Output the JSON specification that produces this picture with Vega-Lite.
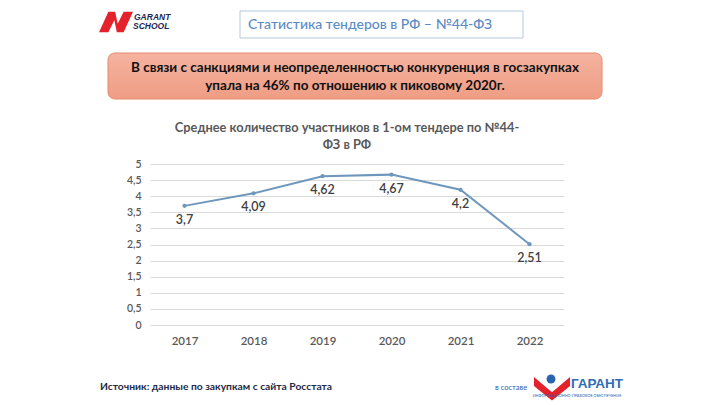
{
  "$schema": "https://vega.github.io/schema/vega-lite/v6.json",
  "autosize": {"type": "none"},
  "width": 414,
  "height": 161,
  "padding": {"left": 150, "top": 164, "right": 156, "bottom": 80},
  "background": "white",
  "config": {
    "view": {"stroke": null},
    "font": "Lato",
    "locale": {"number": {"decimal": ",", "thousands": " ", "grouping": [3], "currency": ["", " ₽"]}}
  },
  "data": {
    "values": [
      {"year": "2017", "value": 3.7},
      {"year": "2018", "value": 4.09},
      {"year": "2019", "value": 4.62},
      {"year": "2020", "value": 4.67},
      {"year": "2021", "value": 4.2},
      {"year": "2022", "value": 2.51}
    ]
  },
  "layer": [
    {
      "encoding": {
        "x": {
          "field": "year", "type": "ordinal",
          "scale": {"type": "point", "padding": 0.5},
          "axis": {"title": null, "labelAngle": 0, "domain": false, "ticks": false, "labelPadding": 10, "labelFont": "Lato", "labelFontSize": 11.5, "labelFontWeight": 600, "labelColor": "#595959", "grid": false}
        },
        "y": {
          "field": "value", "type": "quantitative",
          "scale": {"domain": [0, 5], "nice": false},
          "axis": {"title": null, "values": [0, 0.5, 1, 1.5, 2, 2.5, 3, 3.5, 4, 4.5, 5], "format": "~g", "domain": false, "ticks": false, "labelPadding": 9, "labelFont": "Lato", "labelFontSize": 10.5, "labelFontWeight": 600, "labelColor": "#595959", "gridColor": "#d9d9d9", "gridWidth": 1}
        }
      },
      "layer": [
        {"mark": {"type": "line", "color": "#6f97bd", "strokeWidth": 2}},
        {"mark": {"type": "point", "filled": true, "color": "#6f97bd", "size": 18, "opacity": 1}},
        {"mark": {"type": "text", "dy": 14, "baseline": "middle", "font": "Lato", "fontSize": 12.5, "fontWeight": 600, "fill": "#404040"}, "encoding": {"text": {"field": "value", "type": "quantitative", "format": "~g"}}}
      ]
    },
    {"data": {"values": [{}]}, "mark": {"type": "rule", "x": -150, "x2": 570, "y": -163.5, "stroke": "#dcdcdc", "strokeWidth": 2}, "encoding": {}},
    {"data": {"values": [{}]}, "mark": {"type": "rule", "x": -150, "x2": 570, "y": 238, "stroke": "#e6e6e6", "strokeWidth": 2}, "encoding": {}},
    {"data": {"values": [{}]}, "mark": {"type": "point", "shape": "M-1,0.6 L-0.45,-0.6 L-0.05,-0.6 L0.1,0.1 L0.45,-0.6 L1,-0.6 L0.45,0.6 L0.05,0.6 L-0.1,-0.1 L-0.45,0.6 Z", "x": -34, "y": -142, "size": 1150, "filled": true, "fill": "#e3222b", "strokeWidth": 0, "opacity": 1}, "encoding": {}},
    {"data": {"values": [{}]}, "mark": {"type": "text", "text": "GARANT", "x": -16, "y": -147, "align": "left", "baseline": "middle", "font": "Liberation Sans", "fontSize": 8.5, "fontWeight": "bold", "fontStyle": "italic", "fill": "#1b2a55"}, "encoding": {}},
    {"data": {"values": [{}]}, "mark": {"type": "text", "text": "SCHOOL", "x": -17, "y": -138, "align": "left", "baseline": "middle", "font": "Liberation Sans", "fontSize": 8.5, "fontWeight": "bold", "fontStyle": "italic", "fill": "#1b2a55"}, "encoding": {}},
    {"data": {"values": [{}]}, "mark": {"type": "rect", "x": 90, "x2": 373, "y": -153, "y2": -126, "fill": "white", "stroke": "#b7c9dc", "strokeWidth": 1}, "encoding": {}},
    {"data": {"values": [{}]}, "mark": {"type": "text", "text": "Статистика  тендеров в РФ – №44-ФЗ", "x": 98, "y": -139.5, "align": "left", "baseline": "middle", "font": "Lato", "fontSize": 14, "fontWeight": 500, "fill": "#5b8bc4"}, "encoding": {}},
    {"data": {"values": [{}]}, "mark": {"type": "rect", "x": -42, "x2": 452, "y": -111, "y2": -65, "cornerRadius": 7, "stroke": "#e58a6f", "strokeWidth": 1, "fill": {"gradient": "linear", "x1": 0, "y1": 0, "x2": 0, "y2": 1, "stops": [{"offset": 0, "color": "#f5b3a0"}, {"offset": 1, "color": "#ef9d84"}]}}, "encoding": {}},
    {"data": {"values": [{}]}, "mark": {"type": "text", "text": ["В связи с санкциями и неопределенностью конкуренция в госзакупках", "упала на 46% по отношению к пиковому 2020г."], "x": 205, "y": -96, "align": "center", "baseline": "middle", "font": "Lato", "fontSize": 13.5, "fontWeight": "bold", "lineHeight": 18, "fill": "#111111"}, "encoding": {}},
    {"data": {"values": [{}]}, "mark": {"type": "text", "text": ["Среднее количество участников в 1-ом тендере по №44-", "ФЗ в РФ"], "x": 197, "y": -36, "align": "center", "baseline": "middle", "font": "Lato", "fontSize": 12.8, "fontWeight": "bold", "lineHeight": 17, "fill": "#595959"}, "encoding": {}},
    {"data": {"values": [{}]}, "mark": {"type": "text", "text": "Источник: данные по закупкам с сайта Росстата", "x": -50, "y": 223, "align": "left", "baseline": "middle", "font": "Lato", "fontSize": 10.3, "fontWeight": "bold", "fill": "#1f2a44"}, "encoding": {}},
    {"data": {"values": [{}]}, "mark": {"type": "text", "text": "в составе", "x": 345, "y": 224, "align": "left", "baseline": "middle", "font": "Lato", "fontSize": 7.5, "fill": "#2a63b0"}, "encoding": {}},
    {"data": {"values": [{}]}, "mark": {"type": "point", "shape": "M-1,-0.5 L0,0.35 L1,-0.5 L1,0 L0,0.8 L-1,0 Z", "x": 402, "y": 222, "size": 1300, "filled": true, "fill": "#e3222b", "strokeWidth": 0, "opacity": 1}, "encoding": {}},
    {"data": {"values": [{}]}, "mark": {"type": "point", "shape": "circle", "x": 401, "y": 215, "size": 80, "filled": true, "fill": "#2a63b0", "opacity": 1}, "encoding": {}},
    {"data": {"values": [{}]}, "mark": {"type": "rule", "x": 447, "x2": 472, "y": 209.5, "stroke": "#e3222b", "strokeWidth": 2}, "encoding": {}},
    {"data": {"values": [{}]}, "mark": {"type": "text", "text": "ГАРАНТ", "x": 447, "y": 220, "align": "center", "baseline": "middle", "font": "Liberation Sans", "fontSize": 13.5, "fontWeight": "bold", "fill": "#2f6db5"}, "encoding": {}},
    {"data": {"values": [{}]}, "mark": {"type": "text", "text": "ИНФОРМАЦИОННО-ПРАВОВОЕ ОБЕСПЕЧЕНИЕ", "x": 427, "y": 232, "align": "center", "baseline": "middle", "font": "Lato", "fontSize": 3.8, "fill": "#2a63b0"}, "encoding": {}}
  ]
}
